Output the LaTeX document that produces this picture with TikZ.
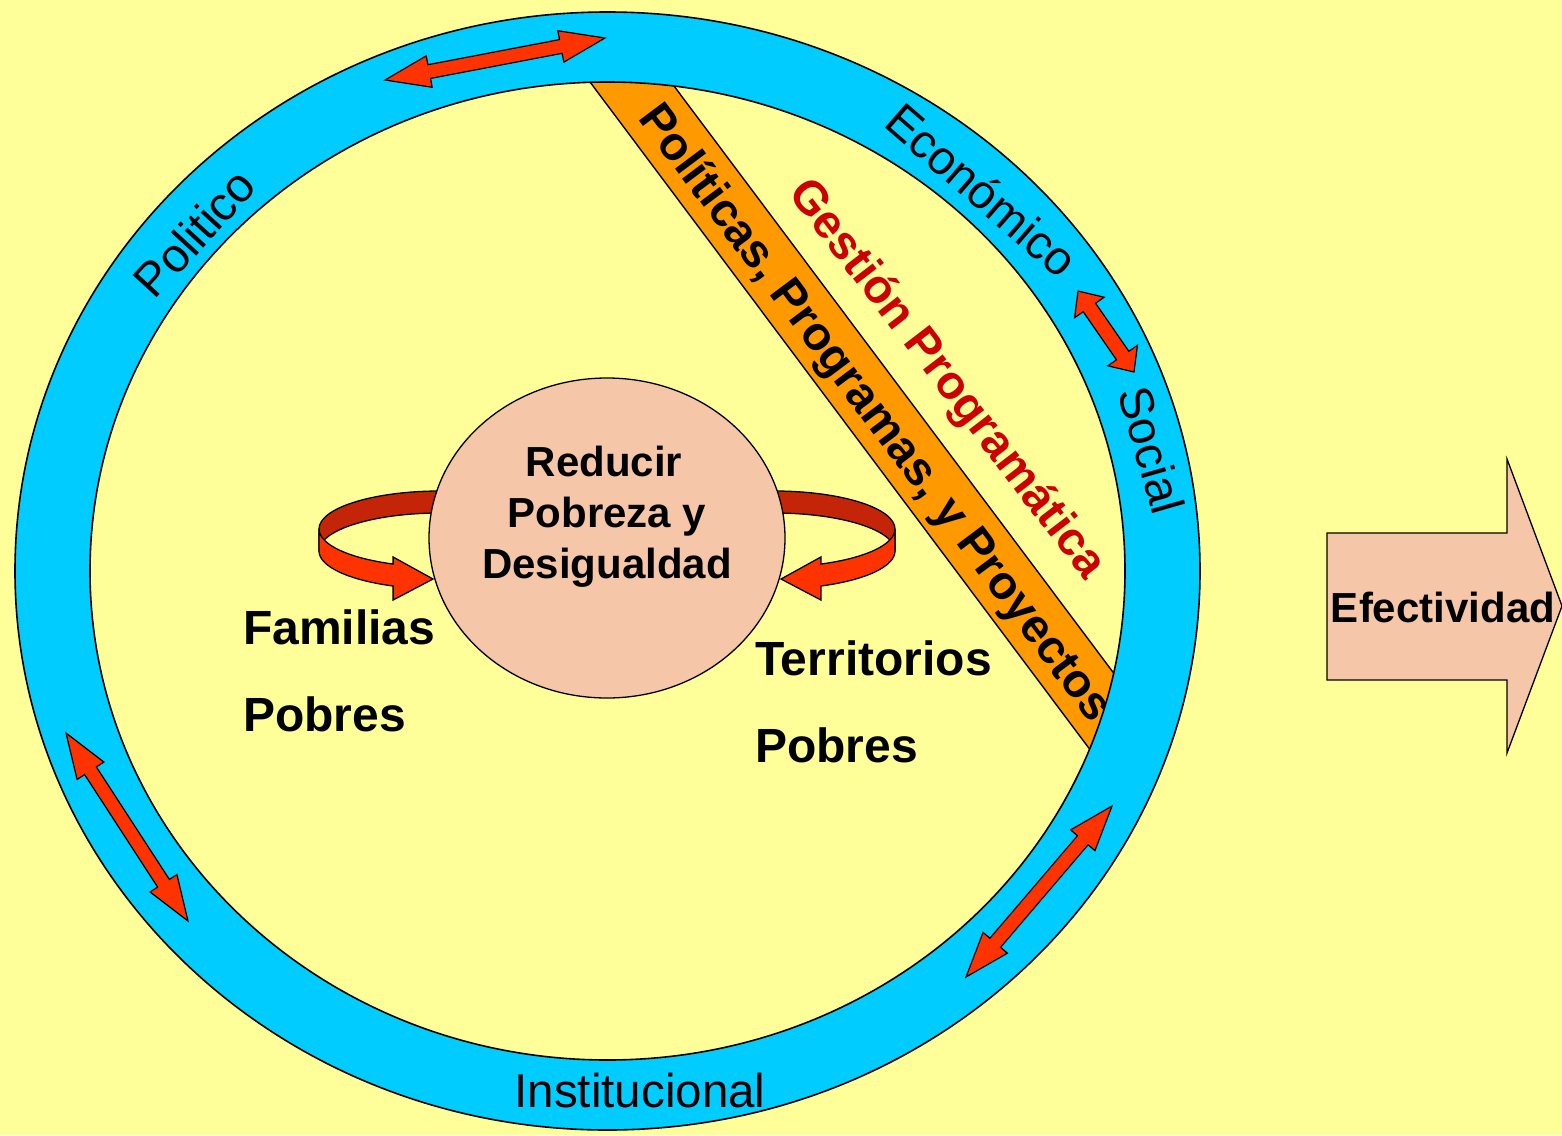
\documentclass[tikz,border=0pt]{standalone}
\usepackage{fontspec}
\setmainfont{Liberation Sans}
\usetikzlibrary{calc}
\definecolor{bg}{HTML}{FFFF99}
\definecolor{ringblue}{HTML}{00CCFF}
\definecolor{bandorange}{HTML}{FF9900}
\definecolor{peach}{HTML}{F5C6A8}
\definecolor{arrowred}{HTML}{FF3300}
\definecolor{darkred}{HTML}{C42508}
\definecolor{gestred}{HTML}{CC0000}
\newcommand{\dblarrow}[5]{%
  \filldraw[fill=arrowred,draw=black,line width=1.2pt,line join=miter]
   (#1) -- ($(#1)!#3!(#2)!#4!90:(#2)$) -- ($(#1)!#3!(#2)!#5!90:(#2)$)
   -- ($(#2)!#3!(#1)!#5!-90:(#1)$) -- ($(#2)!#3!(#1)!#4!-90:(#1)$) -- (#2)
   -- ($(#2)!#3!(#1)!#4!90:(#1)$) -- ($(#2)!#3!(#1)!#5!90:(#1)$)
   -- ($(#1)!#3!(#2)!#5!-90:(#2)$) -- ($(#1)!#3!(#2)!#4!-90:(#2)$) -- cycle;}
\begin{document}
\begin{tikzpicture}[x=1pt,y=-1pt,line join=round,
  ringlabel/.style={font=\fontsize{47.5}{47.5}\selectfont,inner sep=0pt},
  boldlabel/.style={font=\fontsize{48}{48}\selectfont\bfseries,inner sep=0pt,anchor=base west},
  goaltext/.style={font=\fontsize{42}{42}\selectfont\bfseries,inner sep=0pt,anchor=base},
  bandtext/.style={font=\fontsize{47}{47}\selectfont\bfseries,inner sep=0pt},
  outline/.style={draw=black,line width=1.3pt}]
\useasboundingbox (0,0) rectangle (1562,1135);
\fill[bg] (0,0) rectangle (1562,1135);
\coordinate (ringc) at (607.5,571);
% orange band
\begin{scope}
\clip (ringc) ellipse[x radius=517.5,y radius=489];
\fill[bandorange] (540.2,15.5) -- (624.2,19.5) -- (1221.8,817.5) -- (1137.8,813.5) -- cycle;
\draw[line width=1.4pt] (540.2,15.5) -- (1137.8,813.5);
\draw[line width=1.4pt] (624.2,19.5) -- (1221.8,817.5);
\end{scope}
\node[bandtext,rotate=-53.17] (ppp) at (874,414) {Políticas, Programas, y Proyectos};
\node[bandtext,text=gestred,rotate=-52.5] (gp) at (946,380) {Gestión Programática};
% loops
\filldraw[fill=darkred,outline] (440,491) arc[start angle=270,end angle=180,x radius=121,y radius=38]
  -- (319,551) arc[start angle=180,end angle=270,x radius=121,y radius=38] -- cycle;
\filldraw[fill=darkred,outline] (774,491) arc[start angle=-90,end angle=0,x radius=121,y radius=38]
  -- (895,551) arc[start angle=0,end angle=-90,x radius=121,y radius=38] -- cycle;
% goal circle
\coordinate (goalc) at (607,538);
\filldraw[fill=peach,outline] (goalc) ellipse[x radius=178,y radius=160];
\node[goaltext] (goal1) at (604,476) {Reducir};
\node[goaltext] (goal2) at (607,527) {Pobreza y};
\node[goaltext] (goal3) at (607,578) {Desigualdad};
\filldraw[fill=arrowred,outline,line join=miter] (319,529) arc[start angle=180,end angle=112.8,x radius=121,y radius=38]
  -- (393.1,557) -- (433,579) -- (393.1,600) -- (393.1,586.0)
  arc[start angle=112.8,end angle=180,x radius=121,y radius=38] -- cycle;
\filldraw[fill=arrowred,outline,line join=miter] (895,529) arc[start angle=0,end angle=67.2,x radius=121,y radius=38]
  -- (820.9,557) -- (781,579) -- (820.9,600) -- (820.9,586.0)
  arc[start angle=67.2,end angle=0,x radius=121,y radius=38] -- cycle;
\node[boldlabel] (fam) at (243,644) {Familias};
\node[boldlabel] (pobl) at (243,731) {Pobres};
\node[boldlabel] (terr) at (755,675) {Territorios};
\node[boldlabel] (pobr) at (755,762) {Pobres};
% ring
\fill[ringblue,even odd rule] (ringc) ellipse[x radius=592.5,y radius=559] (ringc) ellipse[x radius=517.5,y radius=489];
\draw[line width=1.6pt] (ringc) ellipse[x radius=592.5,y radius=559];
\draw[line width=1.6pt] (ringc) ellipse[x radius=517.5,y radius=489];
% ring arrows
\coordinate (a1s) at (385,80);   \coordinate (a1e) at (605,38);
\coordinate (a2s) at (66,733);   \coordinate (a2e) at (188,921);
\coordinate (a3s) at (966,977);  \coordinate (a3e) at (1112,806);
\coordinate (a4s) at (1078,291); \coordinate (a4e) at (1134,372);
\dblarrow{a1s}{a1e}{45pt}{16pt}{7pt}
\dblarrow{a2s}{a2e}{45pt}{16pt}{7pt}
\dblarrow{a3s}{a3e}{45pt}{16pt}{7pt}
\dblarrow{a4s}{a4e}{20pt}{18pt}{7.5pt}
% ring labels
\node[ringlabel,rotate=47.5] (pol) at (194,233) {Politico};
\node[ringlabel,rotate=-41] (eco) at (982,190) {Económico};
\node[ringlabel,rotate=-74] (soc) at (1152,450) {Social};
\node[ringlabel,anchor=base] (inst) at (640,1107) {Institucional};
% efectividad arrow
\filldraw[fill=peach,outline,line join=miter] (1327,533) -- (1507,533) -- (1507,459) -- (1562,606)
  -- (1507,753) -- (1507,680) -- (1327,680) -- cycle;
\node[goaltext] (efect) at (1443,622) {Efectividad};
\end{tikzpicture}
\end{document}
